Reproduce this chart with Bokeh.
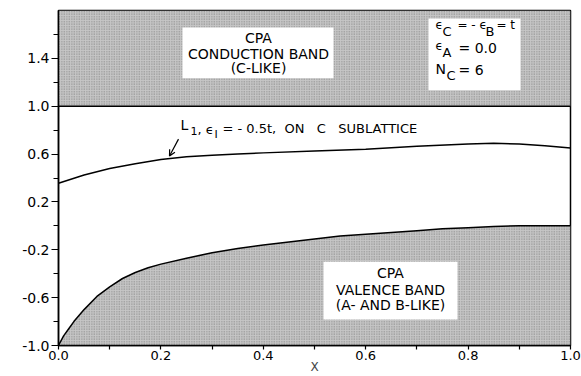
from bokeh.plotting import figure
from bokeh.models import FixedTicker, Label, BoxAnnotation, Arrow, OpenHead
from bokeh.embed import file_html
from bokeh.resources import INLINE

# ---- data ----
x_major = [0.0, 0.2, 0.4, 0.6, 0.8, 1.0]
x_minor = [0.1, 0.3, 0.5, 0.7, 0.9]
x_labels = ["0.0", "0.2", "0.4", "0.6", "0.8", "1.0"]
y_major = [1.4, 1.0, 0.6, 0.2, -0.2, -0.6, -1.0]
y_minor = [1.6, 1.2, 0.8, 0.4, 0.0, -0.4, -0.8]
y_labels = ["1.4", "1.0", "0.6", "0.2", "-0.2", "-0.6", "-1.0"]

cond_x = [0.0, 1.0]
cond_lower = [1.0, 1.0]
cond_upper = [1.8, 1.8]

val_x = [0.0, 0.01, 0.02, 0.03, 0.05, 0.075, 0.1, 0.125, 0.15, 0.175, 0.2,
         0.25, 0.3, 0.35, 0.4, 0.45, 0.5, 0.55, 0.6, 0.65, 0.7, 0.75, 0.8,
         0.85, 0.9, 0.95, 1.0]
val_top = [-1.0, -0.92, -0.86, -0.80, -0.70, -0.59, -0.51, -0.44, -0.39, -0.35, -0.32,
           -0.27, -0.225, -0.19, -0.16, -0.135, -0.11, -0.085, -0.07, -0.055, -0.04, -0.025, -0.015,
           -0.005, 0.0, 0.0, 0.0]
val_bottom = [-1.0] * len(val_x)

l1_x = [0.0, 0.05, 0.1, 0.15, 0.2, 0.25, 0.3, 0.35, 0.4, 0.5, 0.6, 0.7, 0.8, 0.85, 0.9, 0.95, 1.0]
l1_e = [0.356, 0.425, 0.48, 0.52, 0.555, 0.578, 0.59, 0.60, 0.61, 0.625, 0.64, 0.665, 0.685, 0.69, 0.685, 0.67, 0.65]

FONT = "DejaVu Sans"
NB = "\u00a0"

p = figure(width=581, height=376, x_range=(0, 1), y_range=(-1.0, 1.8),
           output_backend="svg", toolbar_location=None,
           min_border_left=58, min_border_right=11, min_border_top=10, min_border_bottom=30)
p.grid.visible = False
p.outline_line_color = "black"
p.outline_line_width = 1.5
p.background_fill_color = "white"

band_style = dict(fill_color="#c6c6c6", hatch_pattern="dot", hatch_scale=2.5,
                  hatch_color="#808080", hatch_weight=1)
p.varea(x=cond_x, y1=cond_lower, y2=cond_upper, **band_style)
p.line(cond_x, cond_lower, line_color="black", line_width=1.5)
p.varea(x=val_x, y1=val_bottom, y2=val_top, **band_style)
p.line(val_x, val_top, line_color="black", line_width=1.5)
p.line(l1_x, l1_e, line_color="black", line_width=1.5)

for ax, major, minor, labels in ((p.xaxis[0], x_major, x_minor, x_labels),
                                 (p.yaxis[0], y_major, y_minor, y_labels)):
    ax.ticker = FixedTicker(ticks=major, minor_ticks=minor)
    ax.major_label_overrides = {v: s for v, s in zip(major, labels)}
    ax.major_tick_in = 0
    ax.minor_tick_in = 0
    ax.major_tick_out = 7
    ax.minor_tick_out = 5
    ax.axis_line_width = 1.5
    ax.major_tick_line_width = 1.2
    ax.minor_tick_line_width = 1.2
    ax.major_label_text_font = FONT
    ax.major_label_text_font_size = "14px"
    ax.major_label_text_color = "black"
    ax.major_label_standoff = 2

xa = p.xaxis[0]
xa.major_tick_out = 4
xa.minor_tick_out = 4
xa.major_label_text_font_size = "13px"
xa.major_label_standoff = 1
xa.axis_label = "X"
xa.axis_label_text_font = FONT
xa.axis_label_text_font_size = "12px"
xa.axis_label_text_font_style = "normal"
xa.axis_label_standoff = -3


def px_x(px):
    return (px - 58) / 512.0


def px_y(py):
    return 1.0 - (py - 106) / 120.0


# white boxes
for l, r, t, b in ((182, 333, 27, 78), (428, 520, 18, 90), (323, 457, 262, 320)):
    p.add_layout(BoxAnnotation(left=px_x(l), right=px_x(r), top=px_y(t), bottom=px_y(b),
                               fill_color="white", fill_alpha=1.0, line_color=None))


def txt(text, px, py, size=13, align="center", angle=0):
    p.add_layout(Label(x=px_x(px), y=px_y(py), text=text, text_font=FONT,
                       text_font_size=f"{size}px", text_align=align,
                       text_baseline="middle", angle=angle, text_color="black"))


# conduction box
txt("CPA", 258, 38, 14)
txt("CONDUCTION BAND", 258, 54, 14)
txt("(C-LIKE)", 258, 68, 14)
# valence box
txt("CPA", 390, 273, 14)
txt("VALENCE BAND", 390, 290, 14)
txt("(A- AND B-LIKE)", 390, 305, 14)

# parameter box
txt("ϵ", 435, 25, 12, "left")
txt("C", 442, 31, 13, "left")
txt("= - ϵ", 457, 25, 12, "left")
txt("B", 485, 31, 13, "left")
txt("= t", 496, 25, 12, "left")
txt("ϵ", 435, 46, 12, "left")
txt("A", 442, 52, 13, "left")
txt("= 0.0", 458, 48, 14, "left")
txt("N", 435, 69, 14, "left")
txt("C", 446, 75, 13, "left")
txt("= 6", 458, 70, 14, "left")

# L1 annotation
txt("L", 180, 125, 14, "left")
txt("1", 190, 131, 11, "left")
txt(", ϵ", 197, 129, 13, "left")
txt("I", 214, 134, 11, "left")
txt("=" + NB + "- 0.5t," + NB * 2 + "ON" + NB * 3 + "C" + NB * 3 + "SUBLATTICE", 222, 128, 13, "left")
p.add_layout(Arrow(end=OpenHead(size=6, line_width=1.2), line_width=1.2,
                   x_start=px_x(178), y_start=px_y(139), x_end=px_x(169), y_end=px_y(156)))

# y axis title
txt("E/t", 18, 177, 13, "center", angle=1.5708)

open("out.html", "w").write(file_html(p, INLINE))
